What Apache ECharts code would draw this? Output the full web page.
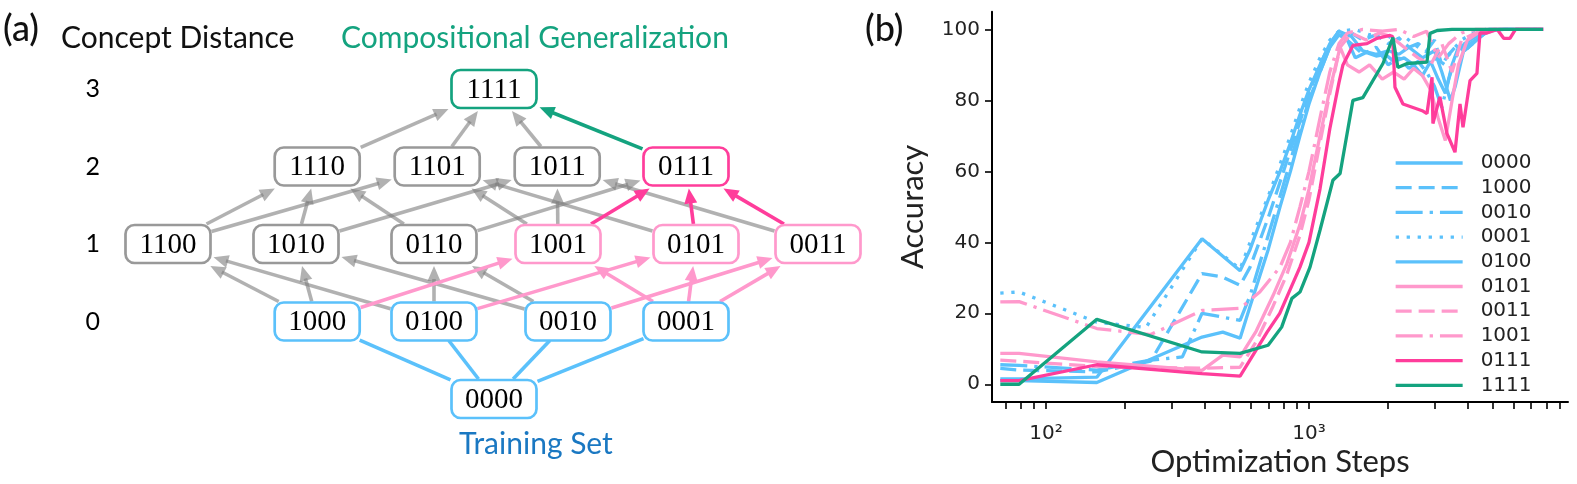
<!DOCTYPE html>
<html><head><meta charset="utf-8">
<script src="https://cdn.jsdelivr.net/npm/echarts@6/dist/echarts.min.js"></script>
<style>html,body{margin:0;padding:0;background:#fff}#c{width:1577px;height:484px}</style>
</head><body><div id="c"></div>
<script>
// ---------------- Panel (a): concept graph ----------------
const nodeNames  = ['0000','1000','0100','0010','0001','1100','1010','0110','1001','0101','0011','1110','1101','1011','0111','1111'];
const nodeLevel  = [-1, 0, 0, 0, 0, 1, 1, 1, 1, 1, 1, 2, 2, 2, 2, 3];
const nodeColumn = [4.8, 2.59, 4.05, 5.725, 7.2, 0.725, 2.325, 4.05, 5.6, 7.325, 8.85, 2.59, 4.09, 5.59, 7.2, 4.8];
const nodeGroup  = ['train','train','train','train','train','gray','gray','gray','pink','pink','pink','gray','gray','gray','hot','green'];
const levelLabels = [0, 1, 2, 3];
// edges: [from, to, kind]
const edgeList = [
  ['0000','1000','train'],['0000','0100','train'],['0000','0010','train'],['0000','0001','train'],
  ['1000','1100','gray'],['0100','1100','gray'],['1000','1010','gray'],['0010','1010','gray'],['0100','0110','gray'],['0010','0110','gray'],
  ['1000','1001','pink'],['0001','1001','pink'],['0100','0101','pink'],['0001','0101','pink'],['0010','0011','pink'],['0001','0011','pink'],
  ['1100','1110','gray'],['1010','1110','gray'],['0110','1110','gray'],['1100','1101','gray'],['1001','1101','gray'],['0101','1101','gray'],
  ['1010','1011','gray'],['1001','1011','gray'],['0011','1011','gray'],['0110','0111','gray'],
  ['1110','1111','gray'],['1101','1111','gray'],['1011','1111','gray'],
  ['1001','0111','hot'],['0101','0111','hot'],['0011','0111','hot'],
  ['0111','1111','green']
];

// ---------------- Panel (b): accuracy curves ----------------
const seriesNames = ['0000','1000','0010','0001','0100','0101','0011','1001','0111','1111'];
const acc0000 = [[67,1],[79,1],[156,0.5],[392,13.3],[470,14.7],[547,13],[597,22],[700,38],[776,50],[850,60],[924,70],[1000,79],[1101,88],[1200,95],[1300,98.5],[1400,97],[1500,92],[1650,93.5],[1800,92.5],[1950,93],[2100,91],[2300,92],[2500,90],[2700,87],[2900,91],[3100,86],[3300,82],[3500,90],[3700,95],[3900,94],[4200,96],[4500,98],[4800,100],[7800,100]];
const acc1000 = [[67,4.5],[79,4],[156,3.5],[250,6.5],[392,31.2],[470,30.2],[547,27.9],[597,33],[700,47],[776,57],[850,66],[924,74],[1000,82],[1101,90],[1200,96],[1300,99.5],[1450,99],[1600,97],[1800,98.5],[2000,96],[2200,97.5],[2400,95],[2600,96],[2800,94],[3000,97],[3200,90],[3400,93],[3700,96],[4000,94.6],[4300,97],[4700,99],[5200,100],[7800,100]];
const acc0010 = [[67,5.5],[79,5.3],[156,4],[250,6.8],[330,7.7],[392,20],[547,18],[597,25],[700,42],[776,53],[850,63],[924,72],[1000,80],[1101,88],[1200,95],[1300,99],[1450,96],[1600,93],[1800,95],[2000,90],[2200,92],[2400,89],[2600,91],[2800,88],[3000,84],[3200,78],[3400,86],[3600,92],[3900,96],[4300,98],[4800,100],[7800,100]];
const acc0001 = [[67,25.7],[79,26],[156,17.5],[240,16],[392,41],[547,32.5],[597,40],[700,53],[776,62],[850,70],[924,78],[1000,85],[1101,92],[1200,97],[1300,99.5],[1500,100],[1700,98.5],[1900,99.5],[2100,97],[2300,98],[2600,95],[2900,93],[3200,90],[3500,94],[3800,97],[4200,99],[4700,100],[7800,100]];
const acc0100 = [[67,1.5],[79,1.5],[156,2],[392,41],[547,32],[597,38],[700,52],[776,60],[850,68],[924,76],[1000,83],[1101,90],[1200,96],[1300,99.5],[1450,98],[1600,94],[1800,93],[2000,94],[2200,93],[2400,95],[2700,92],[3000,94],[3200,88],[3450,80],[3600,84],[3900,95],[4300,97],[4800,99.5],[5500,100],[7800,100]];
const acc0101 = [[67,8.7],[79,8.7],[156,6.3],[392,3.9],[470,8.2],[547,7.7],[630,15],[730,25],[824,34],[924,45],[1000,55],[1101,70],[1200,83],[1313,95],[1400,90],[1550,88],[1700,90],[1900,86],[2100,88],[2300,86],[2500,89],[2700,87],[2900,83],[3100,75],[3300,68.7],[3500,80],[3700,90],[4000,97],[4400,99],[5000,100],[7800,100]];
const acc0011 = [[67,6.8],[79,6.5],[156,5],[392,4.5],[547,4.8],[630,12],[730,22],[824,31],[924,42],[1000,52],[1101,68],[1200,82],[1313,95],[1450,99],[1650,97],[1850,99],[2050,98],[2300,95],[2600,92],[2900,90],[3200,96],[3500,88],[3800,97],[4300,99],[5000,100],[7800,100]];
const acc1001 = [[67,23.2],[79,23.3],[156,15.7],[250,14],[392,20.8],[547,21.4],[650,26],[776,33],[850,40],[924,50],[1000,60],[1101,75],[1200,88],[1300,96],[1400,99],[1600,100],[1900,99.5],[2200,100],[2500,98],[2800,99.5],[3100,92],[3400,96],[3800,99],[4300,100],[7800,100]];
const acc0111 = [[67,1],[79,1],[156,5.5],[392,3],[547,2.3],[693,14.7],[774,20],[924,33],[1000,40],[1101,55],[1200,72],[1300,85],[1346,90],[1469,95.5],[1661,96],[1814,97.5],[2032,98.3],[2080,98],[2123,83.7],[2277,79],[2485,78],[2712,77],[2810,76.3],[2937,86.5],[2960,73.5],[3146,81],[3346,70.7],[3591,65.4],[3752,79],[3852,72.4],[4097,85.6],[4352,87.6],[4469,99],[4752,99],[5200,100],[5500,97.5],[5810,97.5],[6100,100],[7762,100]];
const acc1111 = [[67,0],[79,0],[156,18.3],[392,9.1],[547,8.7],[699,11],[787,16.1],[861,24.2],[924,26],[1009,33],[1101,43.4],[1180,52],[1233,57.5],[1313,59.4],[1469,80],[1603,80.8],[1911,90.4],[2085,97.7],[2178,89.3],[2361,90.4],[2810,90.8],[2886,98.9],[3071,99.7],[3500,100],[7762,100]];
const accData = [acc0000, acc1000, acc0010, acc0001, acc0100, acc0101, acc0011, acc1001, acc0111, acc1111];
const xMinorTicks = [70,80,90,100,200,300,400,500,600,700,800,900,1000,2000,3000,4000,5000,6000,7000,8000,9000];
const xMajorLabels = [100, 1000];
const yTicks = [0, 20, 40, 60, 80, 100];

// ---------------- styles ----------------
const BLUE = '#5bc1fb', PINK = '#ff99cc', HOT = '#ff3d9b', GREEN = '#14a37f', GRAYBOX = '#999999';
const groupColor = {train: BLUE, gray: GRAYBOX, pink: PINK, hot: HOT, green: GREEN};
const edgeColor = {train: BLUE, gray: 'rgba(125,125,125,0.6)', pink: PINK, hot: HOT, green: GREEN};
const seriesColor = [BLUE, BLUE, BLUE, BLUE, BLUE, PINK, PINK, PINK, HOT, GREEN];
const seriesDash  = ['solid', [16,7], [27,7,3.3,7], [3.3,7.7], 'solid', 'solid', [16,7], [27,7,3.3,7], 'solid', 'solid'];

const BOX_W = 85, BOX_H = 38;

const idx = {};
nodeNames.forEach((n, i) => idx[n] = i);
const nodeData = nodeNames.map((n, i) => [nodeColumn[i], nodeLevel[i], i]);
const edgeData = edgeList.map((e, k) => [nodeColumn[idx[e[0]]], nodeLevel[idx[e[0]]], nodeColumn[idx[e[1]]], nodeLevel[idx[e[1]]], k]);

function boxExit(c, d, hw, hh) {
  const tx = Math.abs(d[0]) > 1e-6 ? hw / Math.abs(d[0]) : Infinity;
  const ty = Math.abs(d[1]) > 1e-6 ? hh / Math.abs(d[1]) : Infinity;
  const t = Math.min(tx, ty);
  return [c[0] + d[0] * t, c[1] + d[1] * t];
}

function renderEdge(params, api) {
  const p1 = api.coord([api.value(0), api.value(1)]);
  const p2 = api.coord([api.value(2), api.value(3)]);
  const kind = edgeList[api.value(4)][2];
  const col = edgeColor[kind];
  const dx = p2[0] - p1[0], dy = p2[1] - p1[1];
  const L = Math.hypot(dx, dy);
  const d = [dx / L, dy / L];
  const s = boxExit(p1, d, BOX_W / 2 + 1, BOX_H / 2 + 1);
  const tip = boxExit(p2, [-d[0], -d[1]], BOX_W / 2 + 3, BOX_H / 2 + 3);
  const children = [];
  if (kind === 'train') {
    const e2 = boxExit(p2, [-d[0], -d[1]], BOX_W / 2, BOX_H / 2);
    children.push({type: 'line', shape: {x1: s[0], y1: s[1], x2: e2[0], y2: e2[1]}, style: {stroke: col, lineWidth: 3.6}});
  } else {
    const AL = 15, AW = 6.5;
    const base = [tip[0] - d[0] * AL, tip[1] - d[1] * AL];
    const nx = -d[1], ny = d[0];
    children.push({type: 'line', shape: {x1: s[0], y1: s[1], x2: base[0] + d[0] * 2, y2: base[1] + d[1] * 2}, style: {stroke: col, lineWidth: 3.6}});
    children.push({type: 'polygon', shape: {points: [tip, [base[0] + nx * AW, base[1] + ny * AW], [base[0] - nx * AW, base[1] - ny * AW]]}, style: {fill: col}});
  }
  return {type: 'group', children};
}

function renderNode(params, api) {
  const c = api.coord([api.value(0), api.value(1)]);
  const i = api.value(2);
  return {type: 'group', children: [
    {type: 'rect', shape: {x: c[0] - BOX_W / 2, y: c[1] - BOX_H / 2, width: BOX_W, height: BOX_H, r: 9},
     style: {fill: '#fff', stroke: groupColor[nodeGroup[i]], lineWidth: 2.7}},
    {type: 'text', x: c[0], y: c[1] + 1,
     style: {text: nodeNames[i], fill: '#000', fontSize: 29, fontFamily: 'Liberation Serif', align: 'center', verticalAlign: 'middle'}}
  ]};
}

const supMap = {'2': '\u00b2', '3': '\u00b3', '4': '\u2074'};

const chart = echarts.init(document.getElementById('c'), null, {renderer: 'canvas'});
chart.setOption({
  animation: false,
  backgroundColor: '#fff',
  grid: [
    {left: 992, top: 11.7, width: 576, height: 390.3, containLabel: false},
    {left: 110, top: 50.25, width: 800, height: 387.5, containLabel: false}
  ],
  xAxis: [
    {type: 'log', logBase: 10, min: 62.3, max: 9660, gridIndex: 0,
     axisLine: {show: true, onZero: false, lineStyle: {color: '#000', width: 2}},
     axisTick: {show: true, length: 7, customValues: xMinorTicks, lineStyle: {color: '#000', width: 1.6}},
     axisLabel: {show: true, customValues: xMajorLabels, margin: 22, color: '#222', fontSize: 20, fontFamily: 'DejaVu Sans',
       formatter: v => '10' + supMap[String(Math.round(Math.log10(v)))]},
     splitLine: {show: false}, minorTick: {show: false},
     name: 'Optimization Steps', nameLocation: 'middle', nameGap: 44, nameMoveOverlap: false,
     nameTextStyle: {fontSize: 31, fontFamily: 'Lato', color: '#222'}},
    {type: 'value', min: 0, max: 10, gridIndex: 1, show: false}
  ],
  yAxis: [
    {type: 'value', min: -5, max: 105, gridIndex: 0,
     axisLine: {show: true, onZero: false, lineStyle: {color: '#000', width: 2}},
     axisTick: {show: true, length: 7, customValues: yTicks, lineStyle: {color: '#000', width: 1.6}},
     axisLabel: {show: true, customValues: yTicks, margin: 12, color: '#222', fontSize: 20, fontFamily: 'DejaVu Sans'},
     splitLine: {show: false},
     name: 'Accuracy', nameLocation: 'middle', nameGap: 64, nameRotate: 90, nameMoveOverlap: false,
     nameTextStyle: {fontSize: 31, fontFamily: 'Lato', color: '#222'}},
    {type: 'value', min: -1.5, max: 3.5, gridIndex: 1,
     axisLine: {show: false}, axisTick: {show: false}, splitLine: {show: false},
     axisLabel: {show: true, customValues: levelLabels, margin: 10, color: '#000', fontSize: 25, fontFamily: 'Lato'}}
  ],
  legend: {
    orient: 'vertical', left: 1389, top: 148, itemWidth: 67, itemHeight: 12, itemGap: 4.7,
    data: seriesNames,
    lineStyle: {width: 3.3},
    itemStyle: {opacity: 0},
    textStyle: {fontSize: 20, fontFamily: 'DejaVu Sans', color: '#222', lineHeight: 20, padding: [0, 0, 0, 13]}
  },
  graphic: [
    {type: 'text', left: 3, top: 11, style: {text: '(a)', fontSize: 36, fontFamily: 'Lato', fontWeight: 500, fill: '#111'}},
    {type: 'text', left: 61, top: 23, style: {text: 'Concept Distance', fontSize: 30, fontFamily: 'Lato', fill: '#111'}},
    {type: 'text', left: 341, top: 23, style: {text: 'Compositional Generalization', fontSize: 30, fontFamily: 'Lato', fill: GREEN}},
    {type: 'text', left: 459, top: 429, style: {text: 'Training Set', fontSize: 30, fontFamily: 'Lato', fill: '#1a78c2'}},
    {type: 'text', left: 865, top: 11, style: {text: '(b)', fontSize: 36, fontFamily: 'Lato', fontWeight: 500, fill: '#111'}}
  ],
  series: [
    ...seriesNames.map((n, i) => ({
      name: n, type: 'line', xAxisIndex: 0, yAxisIndex: 0, data: accData[i],
      symbol: 'none', showSymbol: false, smooth: false,
      lineStyle: {color: seriesColor[i], width: 3.3, type: seriesDash[i], cap: 'butt'},
      itemStyle: {color: seriesColor[i]},
      emphasis: {disabled: true}
    })),
    {type: 'custom', name: 'edges', xAxisIndex: 1, yAxisIndex: 1, data: edgeData, renderItem: renderEdge,
     encode: {x: [0, 2], y: [1, 3]}, clip: false, silent: true, z: 2},
    {type: 'custom', name: 'nodes', xAxisIndex: 1, yAxisIndex: 1, data: nodeData, renderItem: renderNode,
     encode: {x: 0, y: 1}, clip: false, silent: true, z: 3}
  ]
});
</script></body></html>
